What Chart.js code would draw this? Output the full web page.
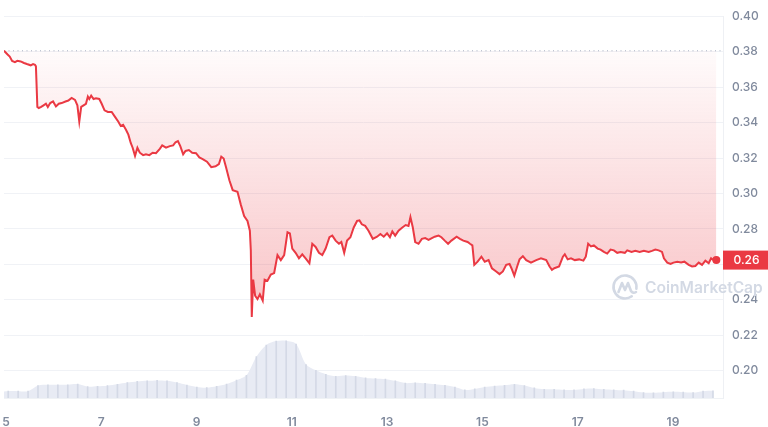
<!DOCTYPE html>
<html>
<head>
<meta charset="utf-8">
<script src="https://cdn.jsdelivr.net/npm/chart.js@4"></script>
<style>
  html, body { margin: 0; padding: 0; background: #fff; }
</style>
</head>
<body>
<canvas id="chart" width="768" height="427"></canvas>
<script>
// price, day of month (fractional) -> USD
const priceDays = [
    4.96, 5.03, 5.08, 5.13, 5.19, 5.24, 5.31, 5.38, 5.44, 5.52,
    5.57, 5.61, 5.63, 5.66, 5.69, 5.74, 5.79, 5.84, 5.88, 5.93,
    5.99, 6.05, 6.11, 6.17, 6.25, 6.31, 6.38, 6.45, 6.50, 6.54,
    6.58, 6.63, 6.68, 6.72, 6.75, 6.79, 6.84, 6.89, 6.96, 7.01,
    7.07, 7.14, 7.22, 7.29, 7.36, 7.41, 7.46, 7.52, 7.57, 7.62,
    7.66, 7.71, 7.76, 7.81, 7.88, 7.94, 8.01, 8.08, 8.15, 8.23,
    8.28, 8.36, 8.44, 8.51, 8.56, 8.61, 8.66, 8.72, 8.77, 8.84,
    8.91, 8.99, 9.06, 9.13, 9.22, 9.31, 9.40, 9.47, 9.52, 9.57,
    9.62, 9.69, 9.76, 9.86, 9.93, 10.00, 10.07, 10.12, 10.14, 10.16,
    10.19, 10.23, 10.28, 10.33, 10.39, 10.43, 10.49, 10.56, 10.63, 10.70,
    10.77, 10.84, 10.91, 10.96, 11.01, 11.08, 11.15, 11.22, 11.29, 11.37,
    11.43, 11.50, 11.57, 11.64, 11.71, 11.79, 11.85, 11.92, 11.99, 12.04,
    12.10, 12.16, 12.23, 12.30, 12.37, 12.42, 12.47, 12.54, 12.61, 12.70,
    12.79, 12.86, 12.93, 13.00, 13.06, 13.11, 13.17, 13.24, 13.32, 13.39,
    13.45, 13.49, 13.54, 13.59, 13.66, 13.73, 13.80, 13.87, 13.94, 14.00,
    14.08, 14.14, 14.21, 14.28, 14.35, 14.46, 14.53, 14.60, 14.69, 14.74,
    14.79, 14.83, 14.90, 14.98, 15.05, 15.13, 15.20, 15.29, 15.36, 15.43,
    15.50, 15.57, 15.61, 15.67, 15.73, 15.78, 15.85, 15.92, 16.02, 16.13,
    16.23, 16.34, 16.41, 16.46, 16.51, 16.61, 16.69, 16.73, 16.79, 16.86,
    16.94, 17.03, 17.12, 17.17, 17.22, 17.28, 17.34, 17.42, 17.48, 17.55,
    17.62, 17.69, 17.76, 17.83, 17.90, 17.99, 18.04, 18.13, 18.21, 18.30,
    18.39, 18.49, 18.56, 18.63, 18.70, 18.77, 18.81, 18.88, 18.95, 19.01,
    19.09, 19.17, 19.24, 19.33, 19.40, 19.47, 19.54, 19.61, 19.68, 19.75,
    19.80, 19.85, 19.91
];
const prices = [
    .3805, .3785, .3772, .3748, .3741, .3748, .3745, .3736, .3730, .3723,
    .3730, .3726, .3717, .3488, .3482, .3488, .3497, .3506, .3488, .3510,
    .3519, .3491, .3506, .3510, .3519, .3524, .3539, .3528, .3497, .3405,
    .3488, .3497, .3506, .3547, .3533, .3552, .3533, .3537, .3533, .3506,
    .3469, .3460, .3460, .3432, .3405, .3381, .3387, .3359, .3332, .3285,
    .3258, .3212, .3258, .3230, .3216, .3221, .3216, .3230, .3227, .3252,
    .3271, .3258, .3267, .3271, .3289, .3295, .3267, .3221, .3240, .3245,
    .3230, .3227, .3203, .3194, .3179, .3148, .3153, .3166, .3208, .3197,
    .3148, .3074, .3019, .3010, .2937, .2872, .2845, .2790, .2679, .2303,
    .2514, .2423, .2404, .2431, .2395, .2514, .2507, .2542, .2551, .2652,
    .2624, .2652, .2781, .2775, .2689, .2665, .2634, .2657, .2634, .2606,
    .2716, .2698, .2665, .2652, .2689, .2753, .2762, .2734, .2716, .2726,
    .2665, .2734, .2753, .2808, .2845, .2848, .2826, .2817, .2790, .2744,
    .2756, .2771, .2756, .2775, .2753, .2786, .2762, .2790, .2808, .2822,
    .2817, .2867, .2808, .2726, .2716, .2744, .2748, .2738, .2748, .2756,
    .2762, .2753, .2734, .2716, .2734, .2756, .2744, .2734, .2726, .2716,
    .2707, .2597, .2615, .2643, .2615, .2624, .2578, .2560, .2545, .2560,
    .2597, .2602, .2578, .2536, .2588, .2628, .2646, .2624, .2610, .2624,
    .2634, .2624, .2588, .2569, .2578, .2588, .2643, .2657, .2628, .2634,
    .2624, .2628, .2621, .2643, .2716, .2701, .2707, .2689, .2683, .2670,
    .2661, .2683, .2679, .2665, .2670, .2665, .2679, .2670, .2676, .2670,
    .2676, .2670, .2676, .2683, .2679, .2670, .2634, .2610, .2602, .2610,
    .2615, .2610, .2615, .2597, .2588, .2591, .2610, .2597, .2621, .2606,
    .2634, .2624, .2624
];

// volume buckets, 5h apart, in millions USD
const volStart = 4.84;
const volStep = 5 / 24;
const volumes = [
    6.3, 7, 7, 7, 12.8, 13.6, 13.6, 13.6, 14.3, 11.6,
    12, 12.6, 14, 15.8, 17, 17.6, 18, 17.6, 15.8, 13.3,
    11.3, 10.6, 12, 14.3, 18.3, 23.3, 42.3, 54.3, 58.3, 58.6,
    55.3, 34.3, 28.3, 24.3, 22.3, 23, 22.3, 20.6, 20, 19.3,
    17.6, 15.3, 15.6, 15, 14, 13, 11.3, 8.3, 9.3, 11.3,
    12.3, 13, 14, 12.8, 10.3, 9, 9, 8.3, 8.3, 9.3,
    9.6, 9, 8.3, 8, 7, 5.6, 5.3, 6, 6.3, 6,
    5.6, 7, 7.3
];

const xTicks = [5, 7, 9, 11, 13, 15, 17, 19];
const yTicks = [0.20, 0.22, 0.24, 0.26, 0.28, 0.30, 0.32, 0.34, 0.36, 0.38, 0.40];

const RED = '#ea3943';
const openPrice = prices[0];
const lastPrice = prices[prices.length - 1];
const xMin = 4.96, xMax = 20.05;

const priceData = priceDays.map((d, i) => ({ x: d, y: prices[i] }));
const volData = volumes.map((v, i) => ({ x: volStart + i * volStep, y: v }));

function redFill(context) {
    const { chart } = context;
    const { ctx, chartArea, scales } = chart;
    if (!chartArea) return 'rgba(234,57,67,0.1)';
    const top = scales.y.getPixelForValue(openPrice);
    const bottom = scales.y.getPixelForValue(Math.min(...prices));
    const g = ctx.createLinearGradient(0, top, 0, bottom);
    g.addColorStop(0, 'rgba(234,57,67,0.02)');
    g.addColorStop(1, 'rgba(234,57,67,0.30)');
    return g;
}

const watermark = {
    id: 'watermark',
    beforeDatasetsDraw(chart) {
        const { ctx, chartArea } = chart;
        const cx = chartArea.right - 98, cy = chartArea.bottom - 111;
        ctx.save();
        ctx.strokeStyle = '#d3d9e4';
        ctx.fillStyle = '#d3d9e4';
        ctx.lineWidth = 2.6;
        ctx.lineCap = 'round';
        ctx.lineJoin = 'round';
        ctx.beginPath();
        ctx.arc(cx, cy, 11.5, 0.3 * Math.PI, 2.05 * Math.PI);
        ctx.stroke();
        ctx.beginPath();
        ctx.moveTo(cx - 6.5, cy + 5);
        ctx.lineTo(cx - 3, cy - 4);
        ctx.lineTo(cx, cy + 3);
        ctx.lineTo(cx + 3, cy - 4);
        ctx.lineTo(cx + 6, cy + 4);
        ctx.quadraticCurveTo(cx + 8, cy + 7, cx + 11, cy + 5);
        ctx.stroke();

        // fit the word mark into the space it takes in the original
        const text = 'CoinMarketCap';
        ctx.font = '600 17px Inter';
        const size = 17 * 118 / ctx.measureText(text).width;
        ctx.font = `600 ${size.toFixed(1)}px Inter`;
        ctx.textBaseline = 'middle';
        ctx.fillText(text, cx + 20, cy + 1);
        ctx.restore();
    }
};

const priceTag = {
    id: 'priceTag',
    afterDraw(chart) {
        const { ctx, chartArea, scales: { y } } = chart;
        const py = y.getPixelForValue(lastPrice);
        ctx.save();
        ctx.fillStyle = RED;
        ctx.fillRect(chartArea.right, py - 9.5, chart.width - chartArea.right, 19);
        ctx.fillStyle = '#fff';
        ctx.font = '500 12px Inter';
        ctx.textAlign = 'center';
        ctx.textBaseline = 'middle';
        ctx.fillText(lastPrice.toFixed(2), (chartArea.right + chart.width) / 2 + 1, py + 0.5);
        ctx.restore();
    }
};

new Chart(document.getElementById('chart'), {
    type: 'line',
    data: {
        datasets: [
            {
                label: 'Price',
                data: priceData,
                yAxisID: 'y',
                order: 0,
                borderColor: RED,
                borderWidth: 2,
                tension: 0,
                fill: { value: openPrice },
                backgroundColor: redFill,
                pointRadius: ctx => ctx.dataIndex === prices.length - 1 ? 4 : 0,
                pointBackgroundColor: RED,
                pointBorderWidth: 0
            },
            {
                label: 'Open',
                data: [{ x: xMin, y: openPrice }, { x: xMax, y: openPrice }],
                yAxisID: 'y',
                order: 1,
                borderColor: '#aab3c3',
                borderWidth: 1,
                borderDash: [1, 3.5],
                pointRadius: 0,
                fill: false
            },
            {
                type: 'bar',
                label: 'Volume stripes',
                data: volData,
                yAxisID: 'yVol',
                order: 2,
                barThickness: 1,
                backgroundColor: '#d4d9e6'
            },
            {
                label: 'Volume',
                data: volData,
                yAxisID: 'yVol',
                order: 3,
                borderWidth: 0,
                pointRadius: 0,
                tension: 0.3,
                fill: 'origin',
                backgroundColor: '#e8ebf4'
            }
        ]
    },
    options: {
        responsive: false,
        animation: false,
        events: [],
        layout: { padding: { top: 7 } },
        plugins: { legend: { display: false }, tooltip: { enabled: false } },
        scales: {
            x: {
                type: 'linear',
                min: xMin,
                max: xMax,
                offset: false,
                grid: { display: false, offset: false },
                border: { display: true, color: '#eff2f5' },
                ticks: {
                    color: '#808a9d',
                    font: { family: 'Inter', size: 12, weight: '600' },
                    padding: 9,
                    maxRotation: 0,
                    autoSkip: false,
                    callback: v => String(v)
                },
                afterBuildTicks: axis => { axis.ticks = xTicks.map(v => ({ value: v })); },
                afterFit: axis => { axis.paddingLeft = 0; axis.paddingRight = 0; axis.height = 29; }
            },
            y: {
                position: 'right',
                min: 0.1846,
                max: 0.40,
                grid: { color: '#f0f2f6', drawTicks: false },
                border: { display: true, color: '#eef0f4' },
                ticks: {
                    color: '#808a9d',
                    font: { family: 'Inter', size: 12, weight: '500' },
                    padding: 9,
                    autoSkip: false,
                    callback: v => v.toFixed(2)
                },
                afterBuildTicks: axis => { axis.ticks = yTicks.map(v => ({ value: v })); },
                afterFit: axis => { axis.width = 45; }
            },
            yVol: {
                display: false,
                min: 0,
                max: 391
            }
        }
    },
    plugins: [watermark, priceTag]
});
</script>
</body>
</html>
